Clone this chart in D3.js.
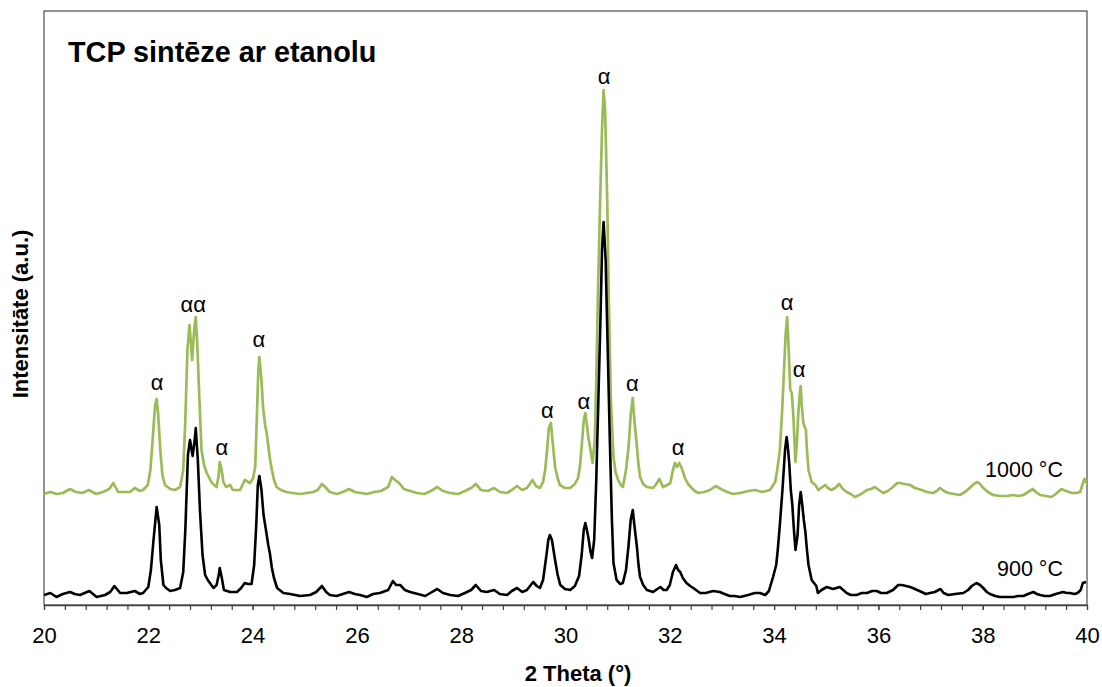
<!DOCTYPE html>
<html>
<head>
<meta charset="utf-8">
<script src="https://cdn.jsdelivr.net/npm/d3@7"></script>
<style>
  html, body { margin: 0; padding: 0; background: #fff; }
  svg { display: block; }
  text { font-family: Arial, "Liberation Sans", sans-serif; fill: #000; }
</style>
</head>
<body>
<div id="chart"></div>
<script>
// ---------- DATA ----------
const chartTitle = "TCP sintēze ar etanolu";
const xAxisTitle = "2 Theta (°)";
const yAxisTitle = "Intensitāte (a.u.)";
const xMajorTicks = [20, 22, 24, 26, 28, 30, 32, 34, 36, 38, 40];
const seriesNames = ["900 °C", "1000 °C"];

// 900 °C pattern: [2θ, intensity (a.u.)]
const pattern900 = [
[20.00,10],[20.12,12],[20.24,8],[20.36,11],[20.50,13],[20.59,11],[20.69,10],[20.87,14],[21.01,8],[21.17,10],
[21.27,13],[21.35,19],[21.46,12],[21.59,12],[21.74,14],[21.84,11],[21.90,12],[22.00,18],[22.05,35],[22.10,65],
[22.16,98],[22.21,80],[22.24,45],[22.29,20],[22.34,17],[22.42,14],[22.51,15],[22.61,17],[22.67,33],[22.71,75],
[22.76,150],[22.80,165],[22.85,149],[22.89,165],[22.91,177],[22.95,145],[22.99,95],[23.04,50],[23.09,30],[23.14,25],
[23.25,17],[23.31,20],[23.35,30],[23.37,37],[23.41,27],[23.45,15],[23.57,13],[23.70,13],[23.78,17],[23.85,22],
[23.91,21],[23.98,21],[24.03,40],[24.07,80],[24.10,120],[24.13,129],[24.17,115],[24.21,90],[24.25,77],[24.30,60],
[24.33,52],[24.37,37],[24.41,27],[24.47,17],[24.59,12],[24.72,11],[24.91,9],[25.10,10],[25.22,13],[25.33,19],
[25.41,13],[25.48,10],[25.61,9],[25.73,11],[25.85,13],[25.96,11],[26.06,10],[26.19,8],[26.31,11],[26.44,12],
[26.60,15],[26.69,24],[26.75,20],[26.83,20],[26.92,15],[27.02,13],[27.17,11],[27.31,9],[27.44,13],[27.54,16],
[27.65,12],[27.79,10],[27.94,9],[28.07,12],[28.19,15],[28.28,20],[28.38,14],[28.49,13],[28.63,15],[28.74,11],
[28.88,10],[28.97,14],[29.07,17],[29.17,13],[29.26,15],[29.38,23],[29.45,19],[29.51,17],[29.57,25],[29.64,52],
[29.67,65],[29.70,70],[29.74,65],[29.80,45],[29.85,30],[29.90,20],[29.99,16],[30.09,15],[30.18,19],[30.26,29],
[30.31,50],[30.35,75],[30.38,82],[30.41,75],[30.44,67],[30.48,53],[30.51,47],[30.55,65],[30.59,125],[30.63,205],
[30.67,285],[30.70,355],[30.73,383],[30.77,345],[30.81,255],[30.85,165],[30.89,85],[30.92,42],[30.98,25],[31.05,21],
[31.10,22],[31.16,35],[31.21,60],[31.25,85],[31.29,95],[31.32,80],[31.37,58],[31.40,40],[31.43,28],[31.49,20],
[31.56,15],[31.68,13],[31.76,16],[31.82,18],[31.88,15],[31.94,15],[32.00,20],[32.06,33],[32.12,40],[32.16,35],
[32.20,33],[32.25,27],[32.32,22],[32.39,19],[32.45,17],[32.58,12],[32.69,12],[32.83,14],[32.96,13],[33.05,11],
[33.15,9],[33.24,9],[33.35,8],[33.50,10],[33.63,12],[33.73,12],[33.83,10],[33.90,14],[33.98,28],[34.04,40],
[34.07,55],[34.11,80],[34.16,115],[34.21,155],[34.24,168],[34.26,160],[34.29,142],[34.32,115],[34.35,100],[34.38,75],
[34.41,55],[34.45,70],[34.48,100],[34.51,113],[34.54,100],[34.57,85],[34.60,73],[34.63,55],[34.66,40],[34.72,25],
[34.81,19],[34.84,12],[34.91,15],[35.01,18],[35.13,16],[35.26,18],[35.39,12],[35.47,10],[35.58,10],[35.68,12],
[35.78,12],[35.88,14],[35.97,14],[36.05,12],[36.16,12],[36.28,15],[36.38,20],[36.45,20],[36.53,19],[36.61,18],
[36.70,16],[36.83,13],[36.91,11],[36.99,12],[37.08,13],[37.19,16],[37.25,12],[37.34,10],[37.47,11],[37.63,12],
[37.72,15],[37.79,19],[37.88,22],[37.95,20],[38.01,17],[38.08,13],[38.14,11],[38.24,9],[38.33,8],[38.45,8],
[38.59,8],[38.68,9],[38.78,9],[38.87,11],[38.97,13],[39.04,11],[39.10,10],[39.19,9],[39.29,9],[39.40,11],
[39.54,13],[39.61,12],[39.67,12],[39.76,11],[39.82,12],[39.88,15],[39.92,22],[39.98,23]
];

// 1000 °C pattern (vertically offset in the figure): [2θ, intensity (a.u.)]
const pattern1000 = [
[20.00,111],[20.12,113],[20.25,111],[20.36,112],[20.50,116],[20.61,113],[20.73,112],[20.86,115],[21.00,111],[21.13,113],
[21.25,116],[21.33,122],[21.42,113],[21.53,113],[21.65,113],[21.74,117],[21.84,114],[21.90,115],[21.99,120],[22.04,135],
[22.09,170],[22.13,200],[22.16,206],[22.19,190],[22.23,155],[22.27,130],[22.32,120],[22.42,116],[22.51,115],[22.61,118],
[22.67,135],[22.71,185],[22.75,255],[22.79,280],[22.82,260],[22.84,245],[22.88,275],[22.91,288],[22.94,260],[22.98,205],
[23.02,155],[23.07,140],[23.12,132],[23.22,122],[23.31,118],[23.35,130],[23.37,143],[23.40,137],[23.44,123],[23.49,118],
[23.57,120],[23.62,115],[23.76,115],[23.85,125],[23.95,122],[24.01,127],[24.05,138],[24.08,185],[24.11,235],[24.13,248],
[24.17,225],[24.20,198],[24.24,180],[24.27,172],[24.30,160],[24.33,147],[24.37,135],[24.41,125],[24.46,118],[24.54,115],
[24.65,113],[24.77,112],[24.91,111],[25.04,112],[25.16,113],[25.25,115],[25.33,121],[25.41,117],[25.48,113],[25.62,111],
[25.73,113],[25.85,116],[25.96,113],[26.08,112],[26.19,111],[26.33,113],[26.46,114],[26.60,118],[26.67,128],[26.73,125],
[26.81,122],[26.90,116],[27.02,114],[27.15,112],[27.29,111],[27.42,114],[27.54,118],[27.65,114],[27.79,112],[27.94,111],
[28.07,114],[28.19,117],[28.28,121],[28.38,115],[28.51,114],[28.63,117],[28.74,113],[28.88,112],[28.97,115],[29.07,119],
[29.17,115],[29.26,117],[29.37,125],[29.43,119],[29.51,117],[29.57,123],[29.61,135],[29.65,157],[29.68,177],[29.72,182],
[29.75,165],[29.80,138],[29.85,127],[29.89,120],[29.99,117],[30.09,117],[30.18,121],[30.24,127],[30.28,140],[30.32,165],
[30.35,185],[30.38,192],[30.41,180],[30.44,167],[30.47,158],[30.52,142],[30.56,165],[30.59,225],[30.62,305],[30.66,395],
[30.70,475],[30.73,515],[30.76,495],[30.80,405],[30.83,305],[30.87,205],[30.92,148],[30.96,133],[31.01,125],[31.06,120],
[31.10,118],[31.16,135],[31.21,158],[31.25,190],[31.29,207],[31.32,185],[31.37,158],[31.40,140],[31.43,128],[31.49,121],
[31.56,118],[31.68,117],[31.74,121],[31.80,126],[31.87,118],[31.95,120],[32.01,122],[32.06,135],[32.10,142],[32.14,138],
[32.18,142],[32.22,138],[32.26,132],[32.29,127],[32.35,121],[32.42,117],[32.48,114],[32.54,112],[32.66,113],[32.77,115],
[32.88,119],[32.98,116],[33.10,113],[33.21,111],[33.35,112],[33.50,114],[33.63,115],[33.77,113],[33.92,115],[34.02,123],
[34.06,135],[34.11,155],[34.15,190],[34.19,235],[34.22,270],[34.25,288],[34.28,255],[34.31,215],[34.34,212],[34.37,188],
[34.39,165],[34.41,143],[34.44,165],[34.46,188],[34.49,210],[34.51,219],[34.53,200],[34.56,182],[34.61,175],[34.63,155],
[34.66,135],[34.72,123],[34.79,120],[34.85,115],[34.90,117],[34.98,120],[35.03,117],[35.10,115],[35.17,117],[35.25,121],
[35.32,116],[35.39,113],[35.47,111],[35.55,108],[35.67,111],[35.78,115],[35.86,116],[35.93,118],[36.01,115],[36.09,112],
[36.18,114],[36.28,118],[36.36,122],[36.41,122],[36.51,121],[36.61,120],[36.70,117],[36.83,115],[36.93,113],[37.05,112],
[37.12,114],[37.18,117],[37.26,114],[37.34,112],[37.45,111],[37.56,110],[37.66,113],[37.75,117],[37.83,121],[37.90,123],
[37.95,121],[38.01,117],[38.10,113],[38.20,110],[38.33,109],[38.46,109],[38.58,110],[38.68,109],[38.78,110],[38.87,113],
[38.96,116],[39.02,113],[39.10,110],[39.21,109],[39.32,108],[39.40,111],[39.51,116],[39.60,114],[39.71,112],[39.79,112],
[39.87,113],[39.91,120],[39.95,126],[40.00,122]
];

// α phase reflection markers: [2θ, label height (a.u.), text]
const alphaMarks = [
[22.17,215,"α"],[22.86,293,"αα"],[23.41,150,"α"],[24.12,258,"α"],[29.65,187,"α"],[30.35,196,"α"],
[30.74,521,"α"],[31.28,214,"α"],[32.16,150,"α"],[34.25,295,"α"],[34.48,228,"α"]
];
// series label anchors: [2θ (right end), height (a.u.)]
const seriesLabelPos = [[39.54,29],[39.54,128]];

// ---------- LAYOUT ----------
const W = 1102, H = 687;
const margin = {top: 11, right: 15, bottom: 82, left: 44};
const iw = W - margin.left - margin.right;
const ih = H - margin.top - margin.bottom;

const svg = d3.select("#chart").append("svg").attr("width", W).attr("height", H);
const g = svg.append("g").attr("transform", `translate(${margin.left},${margin.top})`);

const x = d3.scaleLinear().domain([20, 40]).range([0, iw]);
const y = d3.scaleLinear().domain([0, 594]).range([ih, 0]);

g.append("clipPath").attr("id", "clip").append("rect").attr("width", iw).attr("height", ih);

const line = d3.line().x(d => x(d[0])).y(d => y(d[1]));

const colors = {"1000": "#9bbb59", "900": "#000000"};

// plot frame
g.append("rect").attr("width", iw).attr("height", ih)
  .attr("fill", "none").attr("stroke", "#262626").attr("stroke-width", 1);

// curves (green first, black on top)
g.append("path").datum(pattern1000).attr("clip-path", "url(#clip)")
  .attr("d", line).attr("fill", "none").attr("stroke", colors["1000"])
  .attr("stroke-width", 2.7).attr("stroke-linejoin", "round");
g.append("path").datum(pattern900).attr("clip-path", "url(#clip)")
  .attr("d", line).attr("fill", "none").attr("stroke", colors["900"])
  .attr("stroke-width", 2.6).attr("stroke-linejoin", "round");

// x axis: minor ticks
const minorTicks = d3.range(0, 51).map(i => 20 + i * 0.4);
const minorAxis = g.append("g").attr("transform", `translate(0,${ih})`)
  .call(d3.axisBottom(x).tickValues(minorTicks).tickSize(5).tickSizeOuter(0).tickFormat(""));
minorAxis.select(".domain").remove();
minorAxis.selectAll("line").attr("stroke", "#404040").attr("stroke-width", 1.2);

// x axis: major ticks + labels
const xAxis = g.append("g").attr("transform", `translate(0,${ih})`)
  .call(d3.axisBottom(x).tickValues(xMajorTicks).tickSize(5).tickSizeOuter(0).tickPadding(17).tickFormat(d3.format("d")));
xAxis.select(".domain").attr("stroke", "#404040").attr("stroke-width", 1.6);
xAxis.selectAll("line").attr("stroke", "#404040").attr("stroke-width", 1.2);
xAxis.selectAll("text").attr("font-size", 22).attr("font-family", "Arial, 'Liberation Sans', sans-serif").attr("fill", "#000");

// alpha markers
g.selectAll("text.alpha").data(alphaMarks).enter().append("text")
  .attr("class", "alpha")
  .attr("x", d => x(d[0])).attr("y", d => y(d[1]))
  .attr("text-anchor", "middle").attr("font-size", 22)
  .text(d => d[2]);

// series labels
g.selectAll("text.slabel").data(seriesNames).enter().append("text")
  .attr("class", "slabel")
  .attr("x", (d, i) => x(seriesLabelPos[i][0])).attr("y", (d, i) => y(seriesLabelPos[i][1]))
  .attr("text-anchor", "end").attr("font-size", 21.5)
  .text(d => d);

// title
svg.append("text").attr("x", 68).attr("y", 62)
  .attr("font-size", 28.8).attr("font-weight", "bold").text(chartTitle);

// axis titles
svg.append("text").attr("x", 578).attr("y", 681)
  .attr("text-anchor", "middle").attr("font-size", 22).attr("font-weight", "bold").text(xAxisTitle);
svg.append("text").attr("transform", "translate(28,314) rotate(-90)")
  .attr("text-anchor", "middle").attr("font-size", 22).attr("font-weight", "bold").text(yAxisTitle);
</script>
</body>
</html>
